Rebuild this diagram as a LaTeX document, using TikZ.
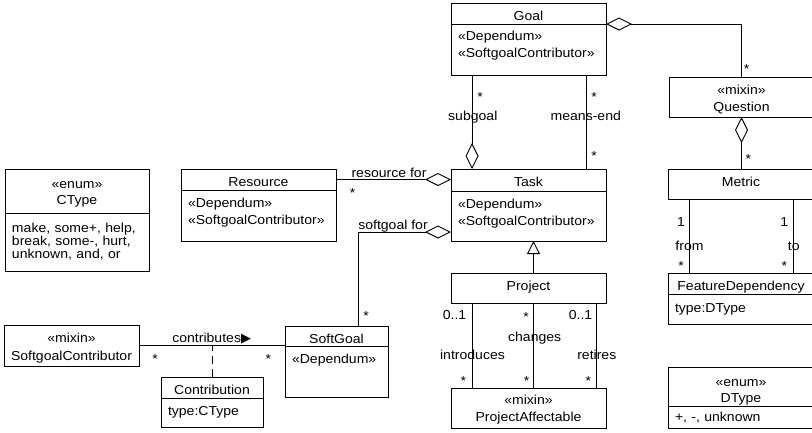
\documentclass[tikz,border=0pt]{standalone}
\usepackage{fontspec}
\setmainfont{Liberation Sans}[FakeStretch=1.08]
\newfontfamily\arrowfont{DejaVu Sans}
\usetikzlibrary{arrows.meta,positioning}

\begin{document}
\begin{tikzpicture}
    [x=1pt, y=-1pt,
    line width=0.9pt,
    every node/.style={font=\fontsize{13}{17.5}\selectfont},
    cls/.style={draw, anchor=north west, outer sep=0pt, inner xsep=4pt,
      inner ysep=0pt, text height=17pt, align=center},
    attrs/.style={cls, inner xsep=7pt, align=left},
    enumhead/.style={cls, text height=19pt, font=\fontsize{13}{16}\selectfont},
    lbl/.style={inner sep=0pt, anchor=base},
    agg/.style={{Diamond[open,length=26pt,width=13pt]}-},
    isa/.style={-{Triangle[open,length=13pt,width=13pt]}},
    ]
    \clip (0,0) rectangle (812,432);

    % classes
    \node[cls, text width=147pt, text depth=4pt] (goal) at (451,3) {Goal};
    \node[attrs, text width=141pt, text height=16pt, text depth=35pt, below=0pt of goal] (goalattr)
      {«Dependum»\\«SoftgoalContributor»};
    \node[cls, text width=137pt, text depth=23pt] (question) at (669,77) {«mixin»\\Question};
    \node[cls, text width=138pt, text depth=13pt] (metric) at (668,169) {Metric};
    \node[cls, text width=147pt, text depth=5pt] (task) at (451,169) {Task};
    \node[attrs, text width=141pt, text depth=33pt, below=0pt of task] (taskattr)
      {«Dependum»\\«SoftgoalContributor»};
    \node[cls, text width=147pt, text depth=4pt] (resource) at (181,169) {Resource};
    \node[attrs, text width=141pt, text depth=34pt, below=0pt of resource] (resourceattr)
      {«Dependum»\\«SoftgoalContributor»};
    \node[enumhead, text width=136pt, text depth=25pt] (ctype) at (5,169) {«enum»\\CType};
    \node[attrs, text width=130pt, text height=19pt, text depth=39pt,
      font=\fontsize{13}{13.3}\selectfont, below=0pt of ctype] (ctypeattr)
      {make, some+, help,\\break, some-, hurt,\\unknown, and, or};
    \node[cls, text width=147pt, text depth=13pt] (project) at (451,273) {Project};
    \node[cls, text width=138pt, text depth=4pt] (featdep) at (668,273) {FeatureDependency};
    \node[attrs, text width=132pt, text height=18pt, text depth=12pt, below=0pt of featdep] (featdepattr)
      {type:DType};
    \node[enumhead, text width=138pt, text depth=20pt] (dtype) at (668,367) {«enum»\\DType};
    \node[attrs, text width=132pt, text height=15pt, text depth=7pt, below=0pt of dtype] (dtypeattr)
      {+, -, unknown};
    \node[cls, text width=127pt, text height=17.5pt, text depth=23.5pt] (contributor) at (4,325)
      {«mixin»\\SoftgoalContributor};
    \node[cls, text width=95pt, text depth=3pt] (softgoal) at (285,326) {SoftGoal};
    \node[attrs, text width=89pt, text depth=34pt, below=0pt of softgoal] (softgoalattr) {«Dependum»};
    \node[cls, text width=94pt, text depth=4pt] (contribution) at (161,377) {Contribution};
    \node[attrs, text width=88pt, text depth=12pt, below=0pt of contribution] (contributionattr)
      {type:CType};
    \node[cls, text width=147pt, text height=16pt, text depth=24pt] (affectable) at (451,388)
      {«mixin»\\ProjectAffectable};

    % associations
    \draw[agg] (goal.south east) -| (question.north);
    \draw[agg] (question.south) -- (question.south |- metric.north);
    \draw[-{Diamond[open,length=26pt,width=13pt]}] ([xshift=21pt]goalattr.south west) -- ([xshift=21pt]task.north west);
    \draw ([xshift=-20pt]goalattr.south east) -- ([xshift=-20pt]task.north east);
    \draw[-{Diamond[open,length=26pt,width=13pt]}] (resource.east) -- (resource.east -| task.west);
    \draw[agg] ([yshift=9pt]taskattr.south west) -| ([xshift=73pt]softgoal.north west);
    \draw[isa] ([xshift=5pt]project.north) -- ([xshift=5pt]taskattr.south);
    \draw ([xshift=21pt]project.south west) -- ([xshift=21pt]affectable.north west);
    \draw ([xshift=5pt]project.south) -- ([xshift=5pt]affectable.north);
    \draw ([xshift=-10pt]project.south east) -- ([xshift=-10pt]affectable.north east);
    \draw ([xshift=21pt]metric.south west) -- ([xshift=21pt]featdep.north west);
    \draw ([xshift=125pt]metric.south west) -- ([xshift=125pt]featdep.north west);
    \draw (contributor.east) -- (contributor.east -| softgoal.west);
    \draw[dash pattern=on 8pt off 5pt] (contribution.north) -- (contribution.north |- contributor.east);

    % role names and multiplicities
    \node[lbl] (questionmult) at (746.7,73.7) {*};
    \node[lbl] (metricmult) at (748.3,163.7) {*};
    \node[lbl] (subgoalmult) at (480,101.3) {*};
    \node[lbl] (subgoal) at (472.8,120) {subgoal};
    \node[lbl] (meansmultA) at (594,101.3) {*};
    \node[lbl] (meansend) at (585.8,120) {means-end};
    \node[lbl] (meansmultB) at (594,160.3) {*};
    \node[lbl] (resourcefor) at (389,177) {resource for};
    \node[lbl] (resourcemult) at (352.7,197) {*};
    \node[lbl] (softgoalfor) at (393,229.5) {softgoal for};
    \node[lbl] (softgoalmult) at (366,320.3) {*};
    \node[lbl] (intromultA) at (454.5,319.3) {0..1};
    \node[lbl] (changemultA) at (526,321) {*};
    \node[lbl] (retiremultA) at (580.5,319.3) {0..1};
    \node[lbl] (changes) at (534.7,341) {changes};
    \node[lbl] (introduces) at (472.5,359) {introduces};
    \node[lbl] (retires) at (596.8,359) {retires};
    \node[lbl] (intromultB) at (463.3,385.3) {*};
    \node[lbl] (changemultB) at (526.7,385.3) {*};
    \node[lbl] (retiremultB) at (588.3,385.3) {*};
    \node[lbl] (frommultA) at (681,226) {1};
    \node[lbl] (tomultA) at (784.3,226) {1};
    \node[lbl] (from) at (689.5,250.7) {from};
    \node[lbl] (to) at (793.7,250.7) {to};
    \node[lbl] (frommultB) at (681,270.3) {*};
    \node[lbl] (tomultB) at (784.3,270.3) {*};
    \node[lbl] (contributes) at (211.7,342) {contributes{\arrowfont ▶}};
    \node[lbl] (contribmultA) at (155,363.7) {*};
    \node[lbl] (contribmultB) at (268.3,363.7) {*};
\end{tikzpicture}
\end{document}
